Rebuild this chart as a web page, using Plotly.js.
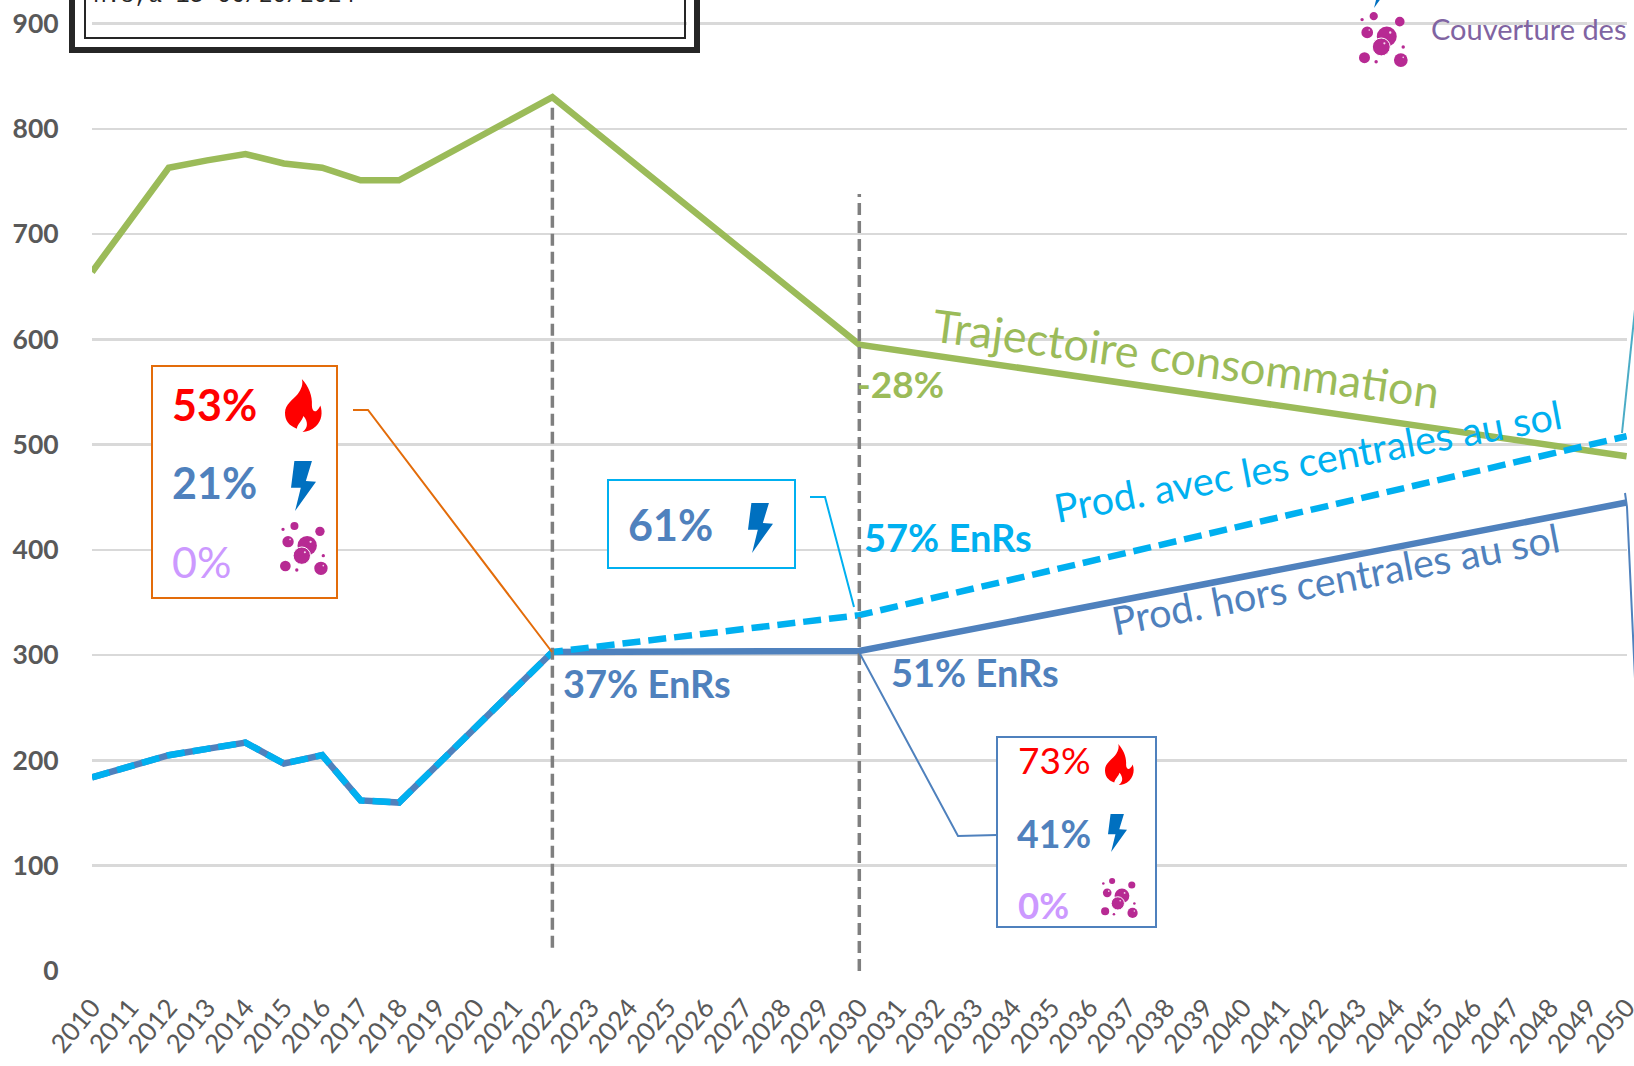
<!DOCTYPE html>
<html><head><meta charset="utf-8">
<script src="https://cdn.plot.ly/plotly-3.0.1.min.js"></script>
<style>html,body{margin:0;padding:0;background:#fff;overflow:hidden}#c{width:1634px;height:1066px}</style>
</head><body><div id="c"></div>
<script>
// --- data ---
const consoYears = [2010,2011,2012,2013,2014,2015,2016,2017,2018,2022,2030,2050];
const consoValues = [664,713,763,770,776,767,763,751,751,830,595,489];
const prodHorsYears = [2010,2011,2012,2013,2014,2015,2016,2017,2018,2022,2030,2050];
const prodHorsValues = [184,195,205,211,217,197,205,162,160,303,304,445];
const prodAvecYears = [2010,2011,2012,2013,2014,2015,2016,2017,2018,2022,2030,2050];
const prodAvecValues = [184,195,205,211,217,197,205,162,160,303,338,508];
const yearTicks = []; for (let y = 2010; y <= 2050; y++) yearTicks.push(y);
const valueTicks = [0,100,200,300,400,500,600,700,800,900];
const milestoneYears = [2022,2030];
const milestoneTop = [825,738];
const milestoneBottom = [22,0];

// --- page geometry ---
const W=1634,H=1066,L=92,R=1627,T=0,B=971;
const px=x=>(x-L)/(R-L), py=y=>1-(y-T)/(B-T);
const GREEN='#9BBB59',CYAN='#00B0F0',BLUE='#4F81BD',RED='#FF0000',LILAC='#CC99FF',VIOLET='#8064A2',GREY='#595959',BOLT='#0070C0',PINK='#B72A93',ORANGE='#E36C0A';

const shapes=[],annotations=[];
function poly(pts,color,width,fill,extra){
  const d=pts.map((p,i)=>(i?'L':'M')+px(p[0])+','+py(p[1])).join(' ')+(fill?' Z':'');
  shapes.push(Object.assign({type:'path',xref:'paper',yref:'paper',path:d,line:{color:color,width:width},fillcolor:fill||'rgba(0,0,0,0)',layer:'above'},extra||{}));
}
function rect(x0,y0,x1,y1,color,width,fill){
  shapes.push({type:'rect',xref:'paper',yref:'paper',x0:px(x0),x1:px(x1),y0:py(y0),y1:py(y1),line:{color:color,width:width},fillcolor:fill||'rgba(0,0,0,0)',layer:'above'});
}
function circle(cx,cy,r,fill,lc,lw){
  shapes.push({type:'circle',xref:'paper',yref:'paper',x0:px(cx-r),x1:px(cx+r),y0:py(cy-r),y1:py(cy+r),line:{color:lc||fill,width:lw||0},fillcolor:fill,layer:'above'});
}
function curve(cmds,x,y,sx,sy,fill){
  let d='';
  cmds.forEach(c=>{d+=c[0]; for(let i=1;i<c.length;i+=2){d+=' '+px(x+c[i]*sx)+','+py(y+c[i+1]*sy)+' ';}});
  shapes.push({type:'path',xref:'paper',yref:'paper',path:d+'Z',line:{width:0},fillcolor:fill,layer:'above'});
}
const flameCmds=[['M',50,0],['C',70,22,82,50,80,80],['C',80,95,88,102,95,95],['C',100,90,103,85,105,80],['C',112,100,110,125,92,143],['C',80,155,65,160,52,160],['C',68,150,70,130,55,112],['C',50,128,38,135,35,150],['C',10,140,0,125,0,102],['C',0,75,25,62,38,45],['C',48,32,55,15,50,0]];
function flame(x,y,w,h){curve(flameCmds,x,y,w/110,h/160,RED);}
const boltPts=[[10,0],[62,0],[44,60],[74,62],[12,150],[29,80],[0,80]];
function bolt(x,y,w,h){poly(boltPts.map(p=>[x+p[0]*w/74,y+p[1]*h/150]),BOLT,0,BOLT);}
const bubbleSet=[[43,12,12],[9,22,5],[119,28,14],[24,59,17],[81,71,29],[65,101,26],[129,101,5],[16,132,16],[50,144,5],[122,139,20]];
function bubbles(x,y,w,h){
  const sx=w/143,sy=h/159,s=(sx+sy)/2;
  bubbleSet.forEach((b,i)=>{
    circle(x+b[0]*sx,y+b[1]*sy,b[2]*s,PINK,i===5?'#ffffff':null,i===5?1:0);
    if(b[2]>=17) circle(x+(b[0]+b[2]*0.35)*sx,y+(b[1]-b[2]*0.4)*sy,Math.max(0.8,b[2]*0.12*s),'#F4D8EC');
  });
}
function txt(t,x,base,size,color,bold){
  annotations.push({xref:'paper',yref:'paper',x:px(x),y:py(base-0.36*size),xanchor:'left',yanchor:'middle',text:bold?'<b>'+t+'</b>':t,showarrow:false,borderpad:0,borderwidth:0,font:{size:size,color:color,family:'Lato'}});
}
function rot(t,cx,cy,size,color,angle){
  annotations.push({xref:'paper',yref:'paper',x:px(cx),y:py(cy),xanchor:'center',yanchor:'middle',text:t,textangle:angle,showarrow:false,borderpad:0,font:{size:size,color:color,family:'Lato'}});
}

// milestones (dashed verticals on the data scale)
milestoneYears.forEach((yr,i)=>shapes.push({type:'line',xref:'x',yref:'y',x0:yr,x1:yr,y0:milestoneBottom[i],y1:milestoneTop[i],line:{color:'#7F7F7F',width:3.5,dash:'12px,6px'},layer:'above'}));

// top-left clipped box
rect(72,-10,697,50,'#262626',6,null);
rect(85,-10,685,38,'#262626',2,null);
rect(687,18,694,28,'#ffffff',0,'#ffffff');
annotations.push({xref:'paper',yref:'paper',x:px(92),y:py(10),xanchor:'left',yanchor:'bottom',text:'n.s,a 13 06/20/2024',showarrow:false,borderpad:0,font:{size:23,color:'#262626',family:'Liberation Mono'}});

// top-right clipped legend
bolt(1370,-42,25,50);
bubbles(1359,12,49,55);
txt('Couverture des',1431,38.5,29,VIOLET,false);

// boxes
rect(152,366,337,598,ORANGE,2,'#ffffff');
rect(608,480,795,568,CYAN,2,'#ffffff');
rect(997,737,1156,927,BLUE,2,'#ffffff');

// leaders
poly([[353,410],[368,410],[552,652]],ORANGE,2);
poly([[810,497],[825,497],[854,607]],CYAN,2);
poly([[859,652],[958,836],[997,835]],BLUE,2);
poly([[1622,433],[1636,300]],'#4BACC6',2);
poly([[1625,493],[1627,507],[1636,700]],BLUE,2);

// box contents
txt('53%',172,420,43,RED,true); flame(285,379,37,53);
txt('21%',172,498,43,BLUE,true); bolt(291,461,25,50);
txt('0%',172,577,43,LILAC,false); bubbles(280,522,48,53);
txt('61%',628,540,43,BLUE,true); bolt(748,503,25,50);
txt('73%',1018,773,37,RED,false); flame(1105,744,29,41);
txt('41%',1017,847,37.5,BLUE,true); bolt(1108,814,19,38);
txt('0%',1018,918,36.5,LILAC,true); bubbles(1101,878,37,40);

// labels
txt('37% EnRs',563,697,38,BLUE,true);
txt('51% EnRs',891,686,38,BLUE,true);
txt('57% EnRs',864,551,38,CYAN,true);
txt('-28%',857,397,37,GREEN,true);
rot('Trajectoire consommation',1186,358,45,GREEN,7.6);
rot('Prod. avec les centrales au sol',1307,460,39.6,CYAN,-10.6);
rot('Prod. hors centrales au sol',1335,578,39.6,BLUE,-10.7);

const traces=[
 {x:consoYears,y:consoValues,mode:'lines',line:{color:GREEN,width:6.5},name:'Trajectoire consommation'},
 {x:prodHorsYears,y:prodHorsValues,mode:'lines',line:{color:BLUE,width:6.5},name:'Prod. hors centrales au sol'},
 {x:prodAvecYears,y:prodAvecValues,mode:'lines',line:{color:CYAN,width:6.5,dash:'18px,8px'},name:'Prod. avec les centrales au sol'}
];
const layout={
 width:W,height:H,showlegend:false,paper_bgcolor:'#fff',plot_bgcolor:'#fff',
 margin:{l:L,r:W-R,t:T,b:H-B,pad:0},
 font:{family:'Lato',color:GREY},
 xaxis:{type:'linear',range:[2010,2050.01],tickmode:'array',tickvals:yearTicks,ticktext:yearTicks.map(String),tickangle:-50,ticklabeloverflow:'allow',showgrid:false,zeroline:false,showline:false,ticks:'outside',ticklen:10,tickcolor:'rgba(0,0,0,0)',tickfont:{size:26,color:GREY,family:'Lato'}},
 yaxis:{range:[0,(B-T)/((971-23.5)/900)],tickmode:'array',tickvals:valueTicks,showgrid:true,gridcolor:'#D9D9D9',gridwidth:2.5,zeroline:false,showline:false,ticks:'outside',ticklen:27,tickcolor:'rgba(0,0,0,0)',tickfont:{size:26.5,color:GREY,family:'Lato',weight:700}},
 shapes:shapes,annotations:annotations
};
Plotly.newPlot('c',traces,layout,{displayModeBar:false,staticPlot:true});
</script></body></html>
